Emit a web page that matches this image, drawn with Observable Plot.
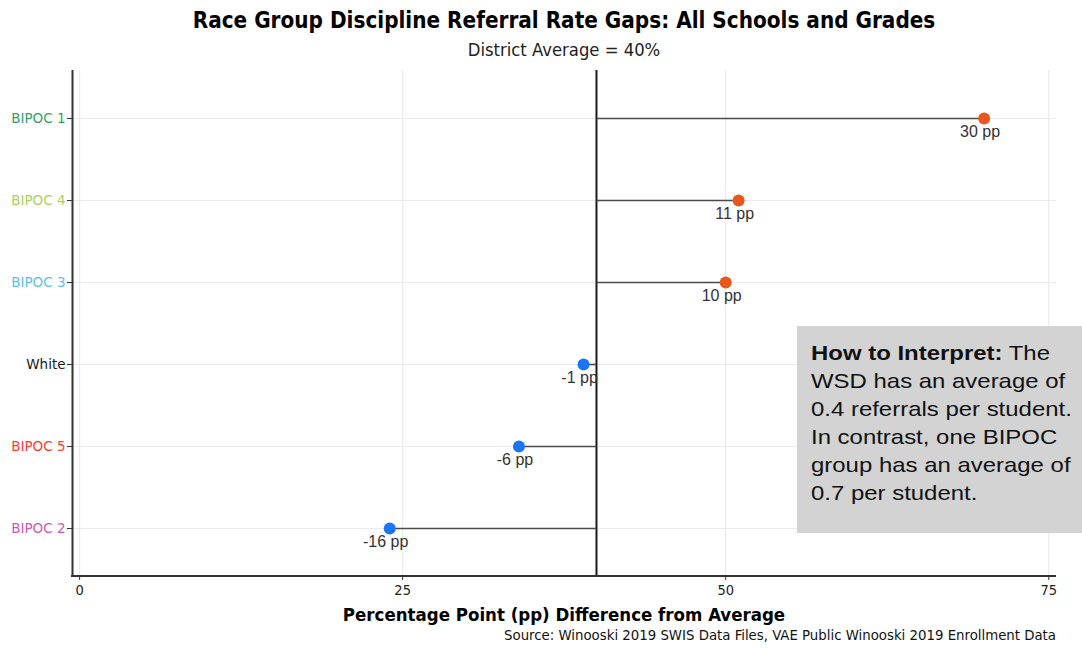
<!DOCTYPE html>
<html><head><meta charset="utf-8">
<script src="https://cdn.jsdelivr.net/npm/d3@7"></script>
<script src="https://cdn.jsdelivr.net/npm/@observablehq/plot@0.6"></script>
<style>
body{margin:0;background:#fff}
#wrap{position:relative;width:1082px;height:648px;overflow:hidden;background:#fff}
.cond{font-family:"DejaVu Sans Condensed","DejaVu Sans",sans-serif;font-stretch:condensed;color:#000;white-space:nowrap}
#title{position:absolute;left:72px;width:984px;top:7px;text-align:center;font-size:22.3px;font-weight:bold;line-height:26px}
#subtitle{position:absolute;left:72px;width:984px;top:39px;text-align:center;font-size:18.3px;line-height:22px;color:#222}
#xlabel{position:absolute;left:72px;width:984px;top:603px;text-align:center;font-size:18.5px;font-weight:bold;line-height:24px}
#source{position:absolute;right:26px;top:626px;text-align:right;font-size:14.8px;line-height:18px;color:#111}
#note{position:absolute;left:797px;top:326px;width:290px;height:207px;background:#d3d3d3}
#noteText{position:absolute;left:14px;top:13px;transform-origin:0 0;transform:scaleX(1.14);
  font-family:"Liberation Sans",Arial,sans-serif;font-size:21px;line-height:28px;color:#111;white-space:nowrap}
#chart{position:absolute;left:0;top:0}
</style>
</head><body>
<div id="wrap">
  <div id="chart"></div>
  <div id="title" class="cond"></div>
  <div id="subtitle" class="cond"></div>
  <div id="xlabel" class="cond"></div>
  <div id="source" class="cond"></div>
  <div id="note"><div id="noteText"></div></div>
</div>
<script>
// ---- data ----
const groups = ["BIPOC 1", "BIPOC 4", "BIPOC 3", "White", "BIPOC 5", "BIPOC 2"];
const rates = [70, 51, 50, 39, 34, 24];
const labelColors = ["#35a068", "#abd25a", "#5cc0ec", "#1a1a1a", "#ff3b2f", "#c95bb5"];
const districtAverage = 40;
const xTicks = [0, 25, 50, 75];
const titleText = "Race Group Discipline Referral Rate Gaps: All Schools and Grades";
const subtitleText = "District Average = 40%";
const xLabelText = "Percentage Point (pp) Difference from Average";
const sourceText = "Source: Winooski 2019 SWIS Data Files, VAE Public Winooski 2019 Enrollment Data";
const noteBold = "How to Interpret:";
const noteLines = [" The", "WSD has an average of", "0.4 referrals per student.", "In contrast, one BIPOC", "group has an average of", "0.7 per student."];

const data = groups.map((g, i) => ({group: g, rate: rates[i], color: labelColors[i]}));
const colorOf = Object.fromEntries(groups.map((g, i) => [g, labelColors[i]]));

document.getElementById("title").textContent = titleText;
document.getElementById("subtitle").textContent = subtitleText;
document.getElementById("xlabel").textContent = xLabelText;
document.getElementById("source").textContent = sourceText;
const note = document.getElementById("noteText");
const b = document.createElement("b"); b.textContent = noteBold; note.appendChild(b);
noteLines.forEach((line, i) => {
  if (i > 0) note.appendChild(document.createElement("br"));
  note.appendChild(document.createTextNode(line));
});

const cond = "DejaVu Sans Condensed, DejaVu Sans, sans-serif";

const plot = Plot.plot({
  width: 1082, height: 648,
  marginTop: 70, marginBottom: 72, marginLeft: 72, marginRight: 26,
  x: {domain: [-0.55, 75.6]},
  y: {type: "point", domain: groups, padding: 0.585},
  style: {background: "transparent", fontFamily: cond},
  marks: [
    Plot.gridX({ticks: xTicks, stroke: "#ebebeb", strokeOpacity: 1, strokeWidth: 1.2}),
    Plot.gridY({stroke: "#ebebeb", strokeOpacity: 1, strokeWidth: 1.2}),
    Plot.ruleX([districtAverage], {stroke: "#1a1a1a", strokeWidth: 2}),
    Plot.link(data, {x1: () => districtAverage, x2: "rate", y1: "group", y2: "group", stroke: "#4a4a4a", strokeWidth: 1.6}),
    Plot.dot(data, {x: "rate", y: "group", r: 6, fill: d => d.rate >= districtAverage ? "#e8571b" : "#1c76f3", stroke: "none"}),
    Plot.text(data, {x: "rate", y: "group", text: d => `${d.rate - districtAverage} pp`, dy: 13, dx: -4,
      fontSize: 16, fontFamily: "Liberation Sans, Arial, sans-serif", fill: "#333"}),
    Plot.ruleX([-0.55], {stroke: "#333", strokeWidth: 2}),
    Plot.axisX({ticks: xTicks, tickSize: 4, tickPadding: 4, label: null, fontSize: 14.5, fontFamily: cond, stroke: "#333", fill: "#222"}),
    Plot.axisY({tickSize: 5, tickPadding: 2, label: null, fontSize: 13.5, fontFamily: "DejaVu Sans, sans-serif", stroke: "#333",
      fill: d => colorOf[d]})
  ]
});
document.getElementById("chart").appendChild(plot);

// bottom axis line of the panel, from the plot's own scales
const xr = plot.scale("x").range, yr = plot.scale("y").range;
d3.select(plot).append("line")
  .attr("x1", xr[0] - 1).attr("x2", xr[1])
  .attr("y1", yr[1]).attr("y2", yr[1])
  .attr("stroke", "#333").attr("stroke-width", 2);
</script>
</body></html>
